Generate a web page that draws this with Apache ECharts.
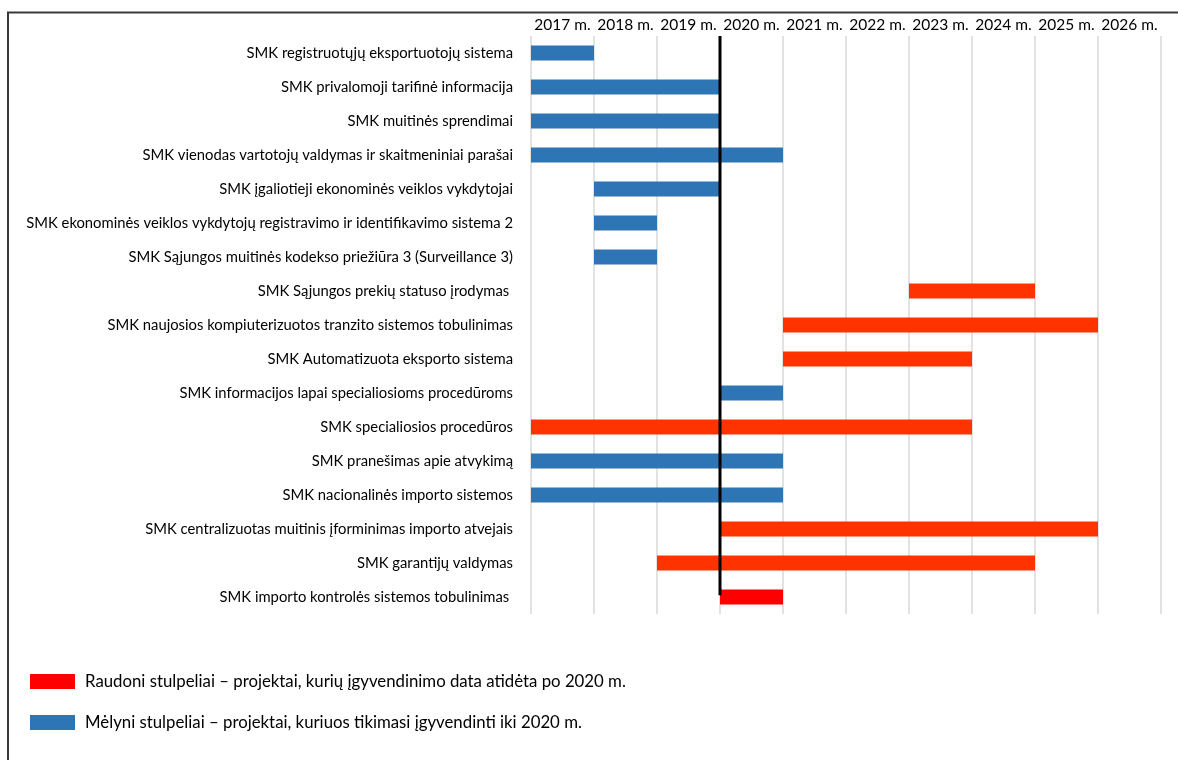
<!DOCTYPE html>
<html>
<head>
<meta charset="utf-8">
<script src="https://cdn.jsdelivr.net/npm/echarts@6/dist/echarts.min.js"></script>
<style>html,body{margin:0;padding:0;background:#fff}#c{width:1178px;height:760px}</style>
</head>
<body>
<div id="c"></div>
<script>
const projects = [
  'SMK registruotųjų eksportuotojų sistema',
  'SMK privalomoji tarifinė informacija',
  'SMK muitinės sprendimai',
  'SMK vienodas vartotojų valdymas ir skaitmeniniai parašai',
  'SMK įgaliotieji ekonominės veiklos vykdytojai',
  'SMK ekonominės veiklos vykdytojų registravimo ir identifikavimo sistema 2',
  'SMK Sąjungos muitinės kodekso priežiūra 3 (Surveillance 3)',
  'SMK Sąjungos prekių statuso įrodymas ',
  'SMK naujosios kompiuterizuotos tranzito sistemos tobulinimas',
  'SMK Automatizuota eksporto sistema',
  'SMK informacijos lapai specialiosioms procedūroms',
  'SMK specialiosios procedūros',
  'SMK pranešimas apie atvykimą',
  'SMK nacionalinės importo sistemos',
  'SMK centralizuotas muitinis įforminimas importo atvejais',
  'SMK garantijų valdymas',
  'SMK importo kontrolės sistemos tobulinimas '
];
const startYears = [2017, 2017, 2017, 2017, 2018, 2018, 2018, 2023, 2021, 2021, 2020, 2017, 2017, 2017, 2020, 2019, 2020];
const endYears   = [2018, 2020, 2020, 2021, 2020, 2019, 2019, 2025, 2026, 2024, 2021, 2024, 2021, 2021, 2026, 2025, 2021];
const groups     = ['blue','blue','blue','blue','blue','blue','blue','red','red','red','blue','red','blue','blue','red','red','red'];
const yearLabels = ['2017 m.','2018 m.','2019 m.','2020 m.','2021 m.','2022 m.','2023 m.','2024 m.','2025 m.','2026 m.'];
const markerYear = 2020;
const legendRed = 'Raudoni stulpeliai – projektai, kurių įgyvendinimo data atidėta po 2020 m.';
const legendBlue = 'Mėlyni stulpeliai – projektai, kuriuos tikimasi įgyvendinti iki 2020 m.';

const FONT = 'Lato';
const BLUE = '#2E75B6', RED = '#FF0000', ORANGE = '#FF3300';

function buildData(g) {
  const out = [];
  projects.forEach((p, i) => {
    if (groups[i] !== g) return;
    const item = { value: [startYears[i], endYears[i], i] };
    if (g === 'red') item.itemStyle = { color: i === projects.length - 1 ? RED : ORANGE };
    out.push(item);
  });
  return out;
}

function renderBar(params, api) {
  const s = api.coord([api.value(0), api.value(2)]);
  const e = api.coord([api.value(1), api.value(2)]);
  const h = 15;
  return {
    type: 'rect',
    shape: { x: s[0], y: s[1] - h / 2, width: e[0] - s[0], height: h },
    style: { fill: api.visual('color') }
  };
}

const chart = echarts.init(document.getElementById('c'), null, { renderer: 'canvas' });
chart.setOption({
  animation: false,
  textStyle: { fontFamily: FONT },
  grid: { left: 531, right: 17, top: 36, height: 578 },
  xAxis: [
    { type: 'value', min: 2017, max: 2027, interval: 1, position: 'top',
      axisLabel: { show: false }, axisLine: { show: false }, axisTick: { show: false },
      splitLine: { show: true, lineStyle: { color: '#D9D9D9', width: 1.5 } } },
    { type: 'category', data: yearLabels, position: 'top', boundaryGap: true,
      axisLine: { show: false }, axisTick: { show: false }, splitLine: { show: false },
      axisLabel: { color: '#000', fontSize: 15.5, fontFamily: FONT, margin: 3, interval: 0 } }
  ],
  yAxis: [
    { type: 'category', data: projects, inverse: true,
      axisLine: { show: false }, axisTick: { show: false }, splitLine: { show: false },
      axisLabel: { color: '#000', fontSize: 14.8, fontFamily: FONT, margin: 18, interval: 0 } },
    { type: 'value', min: 0, max: projects.length, inverse: true, show: false }
  ],
  legend: {
    orient: 'vertical', left: 25, top: 668, itemWidth: 45, itemHeight: 15, itemGap: 24,
    icon: 'rect', selectedMode: false,
    textStyle: { color: '#000', fontSize: 16.8, fontFamily: FONT, padding: [0, 0, 0, 5] },
    data: [legendRed, legendBlue]
  },
  series: [
    { name: legendBlue, type: 'custom', renderItem: renderBar, xAxisIndex: 0, yAxisIndex: 0,
      itemStyle: { color: BLUE }, encode: { x: [0, 1], y: 2 }, data: buildData('blue') },
    { name: legendRed, type: 'custom', renderItem: renderBar, xAxisIndex: 0, yAxisIndex: 0,
      itemStyle: { color: RED }, encode: { x: [0, 1], y: 2 }, data: buildData('red') },
    { type: 'line', xAxisIndex: 0, yAxisIndex: 1, symbol: 'none', z: 5,
      lineStyle: { color: '#000', width: 3 },
      data: [[markerYear, 0], [markerYear, projects.length - 0.55]] }
  ],
  graphic: [
    { type: 'polyline', shape: { points: [[8, 760], [8, 12.5], [1178, 12.5]] },
      style: { stroke: '#3a3a3a', lineWidth: 2, fill: null }, silent: true }
  ]
});
</script>
</body>
</html>
